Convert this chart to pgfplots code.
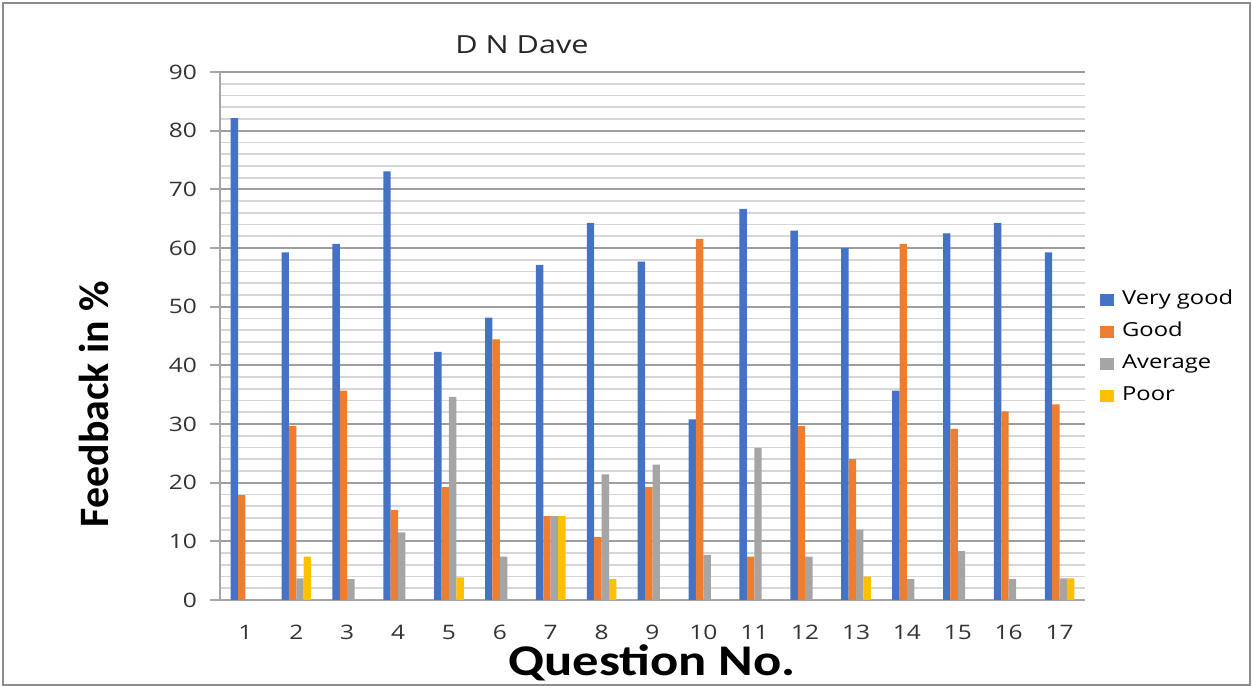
\documentclass[border=0pt]{standalone}
\usepackage{pgfplots}
\pgfplotsset{compat=1.18}
\usepackage{pgfplotstable}
\usepackage{fontspec}
\setmainfont{Open Sans}
\newfontfamily\osans[FakeStretch=1.23]{Open Sans}
\newfontfamily\cwide[FakeStretch=1.2]{Carlito}
\newfontfamily\cnorm{Carlito}

\definecolor{cvg}{HTML}{4472C4}
\definecolor{cgood}{HTML}{ED7D31}
\definecolor{cavg}{HTML}{A5A5A5}
\definecolor{cpoor}{HTML}{FFC000}

% feedback per question, in %
\pgfplotstableread{
q  vg     g      av     po
1  82.14  17.86  0      0
2  59.26  29.63  3.70   7.41
3  60.71  35.71  3.57   0
4  73.08  15.38  11.54  0
5  42.31  19.23  34.62  3.85
6  48.15  44.44  7.41   0
7  57.14  14.29  14.29  14.29
8  64.29  10.71  21.43  3.57
9  57.69  19.23  23.08  0
10 30.77  61.54  7.69   0
11 66.67  7.41   25.93  0
12 62.96  29.63  7.41   0
13 60.00  24.00  12.00  4.00
14 35.71  60.71  3.57   0
15 62.50  29.17  8.33   0
16 64.29  32.14  3.57   0
17 59.26  33.33  3.70   3.70
}\fbdata

\pgfplotsset{
  mybar/.style={fill=#1, draw=none,
    legend image code/.code={\fill[##1, draw=none] (0bp,-3bp) rectangle (7bp,3bp);}},
}

\begin{document}
\begin{tikzpicture}
\useasboundingbox (0,0) rectangle (626.5bp,343bp);
\draw[black!45, line width=0.8bp] (1.5bp,0.5bp) rectangle (625bp,341.5bp);

\begin{axis}[
  at={(110bp,43bp)}, anchor=south west,
  scale only axis, width=432.5bp, height=264bp,
  ybar=0pt, bar width=3.7bp,
  xmin=0.5, xmax=17.5, ymin=0, ymax=90,
  enlarge x limits=false, enlarge y limits=false,
  xtick={1,...,17}, ytick={0,10,...,90},
  minor y tick num=4,
  axis x line*=bottom, axis y line*=left,
  axis line style={black!35, line width=0.9bp, -},
  x tick style={draw=none},
  y tick style={black!35, line width=0.9bp},
  tick align=outside, major tick length=5bp, minor tick length=0pt,
  ymajorgrids, yminorgrids,
  major grid style={black!38, line width=0.9bp},
  minor grid style={black!16, line width=0.9bp},
  ticklabel style={font=\osans\fontsize{10}{12}\selectfont, text=black!80},
  xticklabel style={yshift=-4bp},
  yticklabel style={xshift=-3bp},
  /pgf/number format/assume math mode=true,
  legend style={at={(rel axis cs:1.017,0.59)}, anchor=north west,
    draw=none, fill=none, inner sep=0pt, row sep=5bp,
    font=\osans\fontsize{9.7}{11}\selectfont,
    nodes={inner sep=1bp, text height=7bp, text depth=2bp},
    /tikz/every odd column/.append style={column sep=3bp}},
  legend cell align=left,
]
\addplot[mybar=cvg]   table[x=q, y=vg] {\fbdata};
\addplot[mybar=cgood] table[x=q, y=g]  {\fbdata};
\addplot[mybar=cavg]  table[x=q, y=av] {\fbdata};
\addplot[mybar=cpoor] table[x=q, y=po] {\fbdata};
\legend{Very good, Good, Average, Poor}
\end{axis}

\node[font=\osans\fontsize{12.5}{14}\selectfont, text=black!85] at (261bp,320.5bp) {D N Dave};
\node[font=\cwide\bfseries\fontsize{22}{26}\selectfont, anchor=base] at (326bp,5.5bp) {Question No.};
\node[font=\cnorm\bfseries\fontsize{21}{25}\selectfont, anchor=base, rotate=90] at (54bp,141bp) {Feedback in \%};
\end{tikzpicture}
\end{document}
